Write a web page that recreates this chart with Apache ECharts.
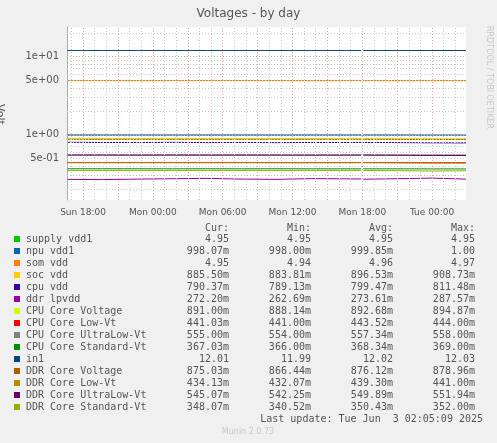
<!DOCTYPE html><html><head><meta charset="utf-8">
<script src="https://cdn.jsdelivr.net/npm/echarts@6/dist/echarts.min.js"></script>
<style>html,body{margin:0;background:#F0F0F0}#c{width:497px;height:443px}</style></head><body><div id="c"></div><script>
const times=['2025-06-01T16:40:00','2025-06-01T19:40:00','2025-06-01T22:40:00','2025-06-02T01:40:00','2025-06-02T04:40:00','2025-06-02T07:40:00','2025-06-02T10:40:00','2025-06-02T13:40:00','2025-06-02T16:40:00','2025-06-02T17:55:00','2025-06-02T18:00:00','2025-06-02T18:05:00','2025-06-02T21:00:00','2025-06-03T00:00:00','2025-06-03T02:55:00'];
const xTickLabels=['2025-06-01T18:00:00','2025-06-02T00:00:00','2025-06-02T06:00:00','2025-06-02T12:00:00','2025-06-02T18:00:00','2025-06-03T00:00:00'];
const names=['supply vdd1','npu vdd1','som vdd','soc vdd','cpu vdd','ddr lpvdd','CPU Core Voltage','CPU Core Low-Vt','CPU Core UltraLow-Vt','CPU Core Standard-Vt','in1','DDR Core Voltage','DDR Core Low-Vt','DDR Core UltraLow-Vt','DDR Core Standard-Vt'];
const colors=['#00CC00','#0066B3','#FF8000','#FFCC00','#330099','#990099','#CCFF00','#FF0000','#808080','#008F00','#00487D','#B35A00','#B38F00','#6B006B','#8FB300'];
const s_supply=[4.95,4.95,4.95,4.95,4.95,4.95,4.95,4.95,4.95,4.95,null,4.95,4.95,4.95,4.95];
const s_npu=[1.0,1.0,1.0,0.999,1.0,1.0,0.999,1.0,1.0,1.0,null,1.0,0.999,0.998,0.998];
const s_som=[4.96,4.96,4.95,4.96,4.97,4.96,4.96,4.95,4.96,4.96,null,4.96,4.95,4.96,4.95];
const s_soc=[0.905,0.900,0.895,0.902,0.898,0.893,0.896,0.899,0.894,0.897,null,0.896,0.893,0.888,0.886];
const s_cpu=[0.805,0.800,0.798,0.803,0.797,0.801,0.796,0.800,0.799,0.802,null,0.800,0.797,0.792,0.790];
const s_ddrlp=[0.270,0.268,0.272,0.275,0.278,0.272,0.270,0.276,0.274,0.273,null,0.271,0.275,0.280,0.272];
const s_cpucore=[0.893,0.892,0.893,0.892,0.893,0.892,0.893,0.892,0.893,0.892,null,0.893,0.892,0.891,0.891];
const s_cpulow=[0.444,0.443,0.444,0.444,0.444,0.444,0.443,0.442,0.443,0.444,null,0.444,0.443,0.441,0.441];
const s_cpuulow=[0.558,0.558,0.557,0.558,0.557,0.558,0.557,0.556,0.557,0.557,null,0.558,0.556,0.555,0.555];
const s_cpustd=[0.369,0.369,0.369,0.368,0.369,0.368,0.369,0.368,0.368,0.368,null,0.368,0.368,0.367,0.367];
const s_in1=[12.02,12.02,12.02,12.02,12.02,12.02,12.02,12.02,12.02,12.02,null,12.02,12.02,12.01,12.01];
const s_ddrcore=[0.877,0.876,0.877,0.876,0.877,0.876,0.876,0.877,0.876,0.876,null,0.876,0.875,0.875,0.875];
const s_ddrlow=[0.440,0.440,0.440,0.440,0.440,0.440,0.440,0.440,0.440,0.440,null,0.440,0.438,0.435,0.434];
const s_ddrulow=[0.551,0.551,0.550,0.551,0.550,0.551,0.550,0.550,0.550,0.551,null,0.550,0.548,0.546,0.545];
const s_ddrstd=[0.351,0.351,0.351,0.351,0.351,0.351,0.351,0.351,0.351,0.351,null,0.351,0.349,0.345,0.348];
const cur=['4.95','998.07m','4.95','885.50m','790.37m','272.20m','891.00m','441.03m','555.00m','367.03m','12.01','875.03m','434.13m','545.07m','348.07m'];
const mins=['4.95','998.00m','4.94','883.81m','789.13m','262.69m','888.14m','441.00m','554.00m','366.00m','11.99','866.44m','432.07m','542.25m','340.52m'];
const avgs=['4.95','999.85m','4.96','896.53m','799.47m','273.61m','892.68m','443.52m','557.34m','368.34m','12.02','876.12m','439.30m','549.89m','350.43m'];
const maxs=['4.95','1.00','4.97','908.73m','811.48m','287.57m','894.87m','444.00m','558.00m','369.00m','12.03','878.96m','441.00m','551.94m','352.00m'];
const yTicks=[0.5,1,5,10];
const series_vals=[s_supply,s_npu,s_som,s_soc,s_cpu,s_ddrlp,s_cpucore,s_cpulow,s_cpuulow,s_cpustd,s_in1,s_ddrcore,s_ddrlow,s_ddrulow,s_ddrstd];
const xMin=+new Date('2025-06-01T16:37:00'), xMax=+new Date('2025-06-03T02:55:00');
const L=v=>v==null?null:Math.log10(v);
const hLines=[];
for(let k=-1;k<=1;k++)for(let m=1;m<=9;m++){const v=m*Math.pow(10,k);if(v>0.14&&v<24)hLines.push({yAxis:Math.log10(v),lineStyle:{color:m==1?'#E8A0A0':'#C8C8C8',type:[1,2],width:1}});}
const vLines=[];
for(let t=+new Date('2025-06-01T17:00:00');t<xMax;t+=3600e3){const h=new Date(t).getHours();vLines.push({xAxis:t,lineStyle:{color:h%3==0?'#E8A0A0':'#C8C8C8',type:[1,2],width:1}});}
const series=series_vals.map((a,i)=>({name:names[i],type:'line',symbol:'none',connectNulls:false,lineStyle:{width:1,color:colors[i]},z:3,
 data:times.map((t,j)=>[+new Date(t),L(a[j])])}));
series.unshift({type:'line',data:[],silent:true,markLine:{silent:true,symbol:'none',label:{show:false},animation:false,data:hLines.concat(vLines)}});
const g=[];
const F='DejaVu Sans Mono';
g.push({type:'rect',shape:{x:67,y:27,width:399,height:173},style:{fill:'#fff'},z:-10});
[['Cur:',229],['Min:',311],['Avg:',393],['Max:',475]].forEach(([t,x])=>g.push({type:'text',x:x,y:223,style:{text:t,font:'10px '+F,fill:'#555',textAlign:'right'}}));
names.forEach((n,i)=>{const y=234+12*i;
 g.push({type:'rect',shape:{x:14,y:y+2,width:6,height:6},style:{fill:colors[i]}});
 g.push({type:'text',x:26,y:y,style:{text:n,font:'10px '+F,fill:'#555'}});
 [[cur,229],[mins,311],[avgs,393],[maxs,475]].forEach(([arr,x])=>g.push({type:'text',x:x,y:y,style:{text:arr[i],font:'10px '+F,fill:'#555',textAlign:'right'}}));
});
g.push({type:'text',x:483,y:414,style:{text:'Last update: Tue Jun  3 02:05:09 2025',font:'10px '+F,fill:'#555',textAlign:'right'}});
g.push({type:'text',x:248,y:428,style:{text:'Munin 2.0.73',font:'8px DejaVu Sans',fill:'#C8C8C8',textAlign:'center'}});
g.push({type:'text',x:493,y:26,rotation:-Math.PI/2,style:{text:'RRDTOOL / TOBI OETIKER',font:'8px DejaVu Sans',fill:'#C8C8C8'}});
g.push({type:'text',x:5,y:104,rotation:-Math.PI/2,style:{text:'Volt',font:'11px DejaVu Sans',fill:'#555'}});
const chart=echarts.init(document.getElementById('c'));
chart.setOption({animation:false,backgroundColor:'#F0F0F0',
 title:{text:'Voltages - by day',left:'center',top:3,textStyle:{fontFamily:'DejaVu Sans',fontSize:12,fontWeight:'normal',color:'#555'}},
 grid:{left:67,right:31,top:27,bottom:243},
 xAxis:{type:'value',min:xMin,max:xMax,splitLine:{show:false},axisTick:{show:false},axisLine:{lineStyle:{color:'#aaa'}},
  axisLabel:{fontFamily:'DejaVu Sans',fontSize:9,color:'#555',customValues:xTickLabels.map(s=>+new Date(s)),
   formatter:v=>{const d=new Date(v);return ['Sun','Mon','Tue','Wed','Thu','Fri','Sat'][d.getDay()]+' '+String(d.getHours()).padStart(2,'0')+':00';}}},
 yAxis:{type:'value',min:Math.log10(0.147),max:Math.log10(24),splitLine:{show:false},axisTick:{show:false},axisLine:{show:true,lineStyle:{color:'#aaa'}},
  axisLabel:{fontFamily:'DejaVu Sans',fontSize:10,color:'#555',customValues:yTicks.map(v=>Math.log10(v)),
   formatter:v=>{const r=Math.pow(10,v);return r>=0.99&&r<1.01?'1e+00':r>9.9?'1e+01':r>4.9?'5e+00':'5e-01';}}},
 graphic:g,series});
</script></body></html>
